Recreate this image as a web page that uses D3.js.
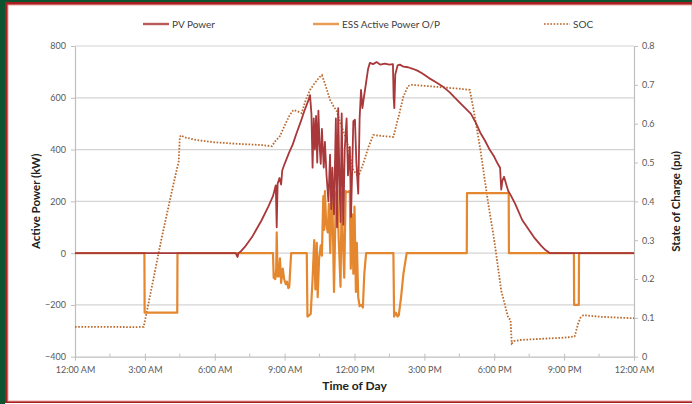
<!DOCTYPE html>
<html>
<head>
<meta charset="utf-8">
<script src="https://cdn.jsdelivr.net/npm/d3@7"></script>
<style>
  html, body { margin: 0; padding: 0; background: #fff; }
  svg { display: block; font-family: Lato, "Open Sans", sans-serif; }
</style>
</head>
<body>
<svg id="chart" width="692" height="404"></svg>
<script>
// hour of day -> kW
const pvPower = [
  [0, 0], [6.9, 0], [6.98, -15], [7.02, 0], [7.1, 5], [7.3, 25], [7.6, 62], [8.0, 125],
  [8.3, 180], [8.5, 220], [8.62, 262], [8.66, 100], [8.7, 268], [8.78, 290], [8.85, 265],
  [8.9, 320], [9.0, 345], [9.2, 390], [9.35, 420], [9.5, 460], [9.7, 510], [9.85, 550],
  [10.0, 585], [10.09, 610], [10.15, 540], [10.2, 330], [10.25, 520], [10.3, 400],
  [10.35, 530], [10.4, 350], [10.45, 550], [10.5, 420], [10.55, 345], [10.6, 480],
  [10.68, 330], [10.73, 430], [10.8, 300], [10.88, 200], [10.95, 380], [11.0, 170],
  [11.05, 330], [11.12, 150], [11.2, 520], [11.25, 100], [11.3, 560], [11.35, 300],
  [11.4, 120], [11.45, 540], [11.52, 110], [11.58, 400], [11.66, 520], [11.72, 300],
  [11.8, 410], [11.85, 140], [11.9, 320], [11.95, 510], [12.02, 515], [12.08, 350],
  [12.16, 230], [12.22, 520], [12.28, 630], [12.34, 560], [12.4, 600], [12.5, 660],
  [12.58, 710], [12.66, 735], [12.8, 730], [12.95, 738], [13.1, 728], [13.3, 732],
  [13.5, 728], [13.65, 730], [13.68, 600], [13.71, 560], [13.75, 690], [13.85, 725],
  [13.95, 728], [14.1, 720], [14.3, 718], [14.5, 712], [14.7, 705], [14.9, 695],
  [15.2, 676], [15.5, 660], [15.8, 643], [16.1, 620], [16.4, 592], [16.7, 565],
  [17.0, 538], [17.2, 505], [17.4, 465], [17.6, 435], [17.8, 400], [18.0, 372],
  [18.15, 345], [18.25, 330], [18.3, 245], [18.35, 280], [18.42, 295], [18.5, 270],
  [18.6, 240], [18.7, 225], [18.9, 190], [19.2, 128], [19.5, 88], [19.7, 62],
  [20.0, 30], [20.2, 12], [20.4, 0], [24, 0]
];

const essPower = [
  [0, 0], [2.98, 0], [2.99, -230], [4.39, -230], [4.4, 0], [8.5, 0], [8.53, -95],
  [8.6, -100], [8.64, -60], [8.66, 80], [8.7, -90], [8.75, -90], [8.8, -20], [8.85, -115],
  [8.92, -60], [8.98, -100], [9.05, -120], [9.1, -110], [9.16, -135], [9.2, -130],
  [9.28, 0], [9.95, 0], [9.98, -245], [10.05, -240], [10.12, -235], [10.2, -100],
  [10.27, 50], [10.32, -140], [10.38, 40], [10.42, -170], [10.48, -20], [10.55, 30],
  [10.6, -10], [10.66, 220], [10.7, 90], [10.73, 240], [10.78, 120], [10.85, 80],
  [10.9, 190], [10.96, 0], [11.02, 210], [11.06, 160], [11.12, -150], [11.2, 230],
  [11.26, 245], [11.32, 60], [11.4, -130], [11.45, 235], [11.5, 50], [11.56, -95],
  [11.62, 240], [11.66, 235], [11.8, 240], [11.84, -60], [11.9, 150], [11.95, -80],
  [12.0, 180], [12.06, -150], [12.1, 40], [12.16, -170], [12.22, -205], [12.3, -200],
  [12.36, -210], [12.42, -80], [12.5, 0], [13.67, 0], [13.7, -245], [13.78, -230],
  [13.85, -245], [13.9, -240], [14.0, -170], [14.1, -80], [14.24, 0], [16.82, 0],
  [16.83, 232], [18.62, 232], [18.63, 0], [21.42, 0], [21.43, -200], [21.63, -200],
  [21.64, 0], [24, 0]
];

// hour of day -> state of charge (pu)
const soc = [
  [0, 0.077], [1.5, 0.077], [2.5, 0.076], [2.95, 0.077], [3.3, 0.18], [3.7, 0.3],
  [4.1, 0.41], [4.4, 0.49], [4.45, 0.5], [4.5, 0.565], [4.55, 0.57], [4.7, 0.565],
  [5.2, 0.558], [6.0, 0.552], [7.0, 0.548], [8.0, 0.545], [8.45, 0.542], [8.6, 0.555],
  [8.8, 0.568], [9.0, 0.595], [9.2, 0.62], [9.37, 0.635], [9.55, 0.632], [9.73, 0.627],
  [9.9, 0.66], [10.09, 0.687], [10.3, 0.705], [10.5, 0.72], [10.6, 0.725], [10.75, 0.7],
  [10.95, 0.661], [11.1, 0.645], [11.24, 0.632], [11.4, 0.6], [11.66, 0.558],
  [11.8, 0.52], [11.95, 0.481], [12.1, 0.468], [12.2, 0.47], [12.38, 0.498],
  [12.6, 0.54], [12.81, 0.571], [13.2, 0.568], [13.67, 0.566], [13.9, 0.62],
  [14.1, 0.67], [14.3, 0.697], [14.45, 0.7], [15.5, 0.695], [16.5, 0.69], [16.95, 0.687],
  [17.1, 0.64], [17.4, 0.535], [17.74, 0.395], [18.0, 0.3], [18.3, 0.17], [18.6, 0.1],
  [18.7, 0.095], [18.75, 0.034], [18.85, 0.04], [19.1, 0.043], [20, 0.046], [21, 0.049],
  [21.45, 0.052], [21.6, 0.085], [21.7, 0.1], [21.83, 0.107], [22.5, 0.103],
  [23.2, 0.101], [24, 0.099]
];

const hourTicks = [0, 3, 6, 9, 12, 15, 18, 21, 24];
const timeLabels = ['12:00 AM', '3:00 AM', '6:00 AM', '9:00 AM', '12:00 PM',
                    '3:00 PM', '6:00 PM', '9:00 PM', '12:00 AM'];
const powerTicks = [-400, -200, 0, 200, 400, 600, 800];
const socTicks = [0, 0.1, 0.2, 0.3, 0.4, 0.5, 0.6, 0.7, 0.8];
const seriesNames = ['PV Power', 'ESS Active Power O/P', 'SOC'];

const svg = d3.select('#chart');
const W = 692, H = 404;
const plotLeft = 75, plotRight = 634, plotTop = 46, plotBottom = 356.7;

// frame: green backdrop, red border, white card
svg.append('rect').attr('width', W).attr('height', H).attr('fill', '#0c5430');
svg.append('rect').attr('x', 5).attr('y', 2).attr('width', W - 5).attr('height', 401).attr('fill', '#a81e1e');
svg.append('rect').attr('x', 8).attr('y', 5).attr('width', W - 8).attr('height', 396)
    .attr('fill', '#fff').attr('stroke', '#eaa4a4').attr('stroke-width', 1);
svg.append('rect').attr('x', 5).attr('y', 403).attr('width', W - 5).attr('height', 1).attr('fill', '#fff');

const x = d3.scaleLinear().domain([0, 24]).range([plotLeft, plotRight]);
const yL = d3.scaleLinear().domain([-400, 800]).range([plotBottom, plotTop]);
const yR = d3.scaleLinear().domain([0, 0.8]).range([plotBottom, plotTop]);

// gridlines
svg.append('g').selectAll('line')
    .data(powerTicks.filter(d => d > -400))
    .join('line')
    .attr('x1', plotLeft).attr('x2', plotRight)
    .attr('y1', d => yL(d)).attr('y2', d => yL(d))
    .attr('stroke', '#d4d4d4').attr('stroke-width', 1.2);

function styleAxis(g) {
  g.select('.domain').attr('stroke', '#bfbfbf').attr('stroke-width', 1.2);
  g.selectAll('.tick line').attr('stroke', '#bfbfbf');
  g.selectAll('.tick text').attr('fill', '#595959').style('font-size', '9px')
      .style('font-family', 'Lato, "Open Sans", sans-serif');
}

svg.append('g').attr('transform', `translate(${plotLeft},0)`)
    .call(d3.axisLeft(yL).tickValues(powerTicks).tickSize(4).tickPadding(5).tickSizeOuter(0))
    .call(styleAxis);

svg.append('g').attr('transform', `translate(${plotRight},0)`)
    .call(d3.axisRight(yR).tickValues(socTicks).tickSize(4).tickPadding(4).tickSizeOuter(0)
        .tickFormat(d => d === 0 ? '0' : d.toFixed(1)))
    .call(styleAxis);

const xAxis = svg.append('g').attr('transform', `translate(0,${plotBottom})`)
    .call(d3.axisBottom(x).tickValues(hourTicks).tickSize(4).tickPadding(6).tickSizeOuter(0)
        .tickFormat((d, i) => timeLabels[i]))
    .call(styleAxis);
xAxis.selectAll('.tick line').attr('y1', -3);
xAxis.selectAll('.minor')
    .data(hourTicks.slice(0, -1).map(h => h + 1.5))
    .join('line')
    .attr('class', 'minor')
    .attr('x1', d => x(d)).attr('x2', d => x(d))
    .attr('y1', -3).attr('y2', 0)
    .attr('stroke', '#bfbfbf');

// series
const lineL = d3.line().x(d => x(d[0])).y(d => yL(d[1]));
const lineR = d3.line().x(d => x(d[0])).y(d => yR(d[1]));

svg.append('path').datum(soc)
    .attr('d', lineR).attr('fill', 'none')
    .attr('stroke', '#bb6a2e').attr('stroke-width', 1.8)
    .attr('stroke-dasharray', '1.6,1.6');

svg.append('path').datum(essPower)
    .attr('d', lineL).attr('fill', 'none')
    .attr('stroke', '#e4872f').attr('stroke-width', 2.2)
    .attr('stroke-linejoin', 'round');

svg.append('path').datum(pvPower)
    .attr('d', lineL).attr('fill', 'none')
    .attr('stroke', '#a8383a').attr('stroke-width', 1.8)
    .attr('stroke-linejoin', 'round');

// axis titles
svg.append('text')
    .attr('x', (plotLeft + plotRight) / 2).attr('y', 390)
    .attr('text-anchor', 'middle')
    .style('font-size', '12px').style('font-weight', 'bold').attr('fill', '#222')
    .text('Time of Day');

svg.append('text')
    .attr('transform', `translate(40,${(plotTop + plotBottom) / 2}) rotate(-90)`)
    .attr('text-anchor', 'middle')
    .style('font-size', '11.5px').style('font-weight', 'bold').attr('fill', '#222')
    .text('Active Power (kW)');

svg.append('text')
    .attr('transform', `translate(680,${(plotTop + plotBottom) / 2}) rotate(-90)`)
    .attr('text-anchor', 'middle')
    .style('font-size', '11.5px').style('font-weight', 'bold').attr('fill', '#222')
    .text('State of Charge (pu)');

// legend
const legendX = [143, 313, 544];
const legendStyle = [
  {stroke: '#b85a5a', width: 2.4, dash: null},
  {stroke: '#eb9a55', width: 2.4, dash: null},
  {stroke: '#c98450', width: 1.8, dash: '1.6,1.6'}
];
const legend = svg.append('g').selectAll('g')
    .data(seriesNames)
    .join('g')
    .attr('transform', (d, i) => `translate(${legendX[i]},24)`);
legend.append('line')
    .attr('x1', 0).attr('x2', 26)
    .attr('stroke', (d, i) => legendStyle[i].stroke)
    .attr('stroke-width', (d, i) => legendStyle[i].width)
    .attr('stroke-dasharray', (d, i) => legendStyle[i].dash);
legend.append('text')
    .attr('x', 29).attr('dy', '0.35em')
    .style('font-size', '10px').attr('fill', '#404040')
    .text(d => d);
</script>
</body>
</html>
